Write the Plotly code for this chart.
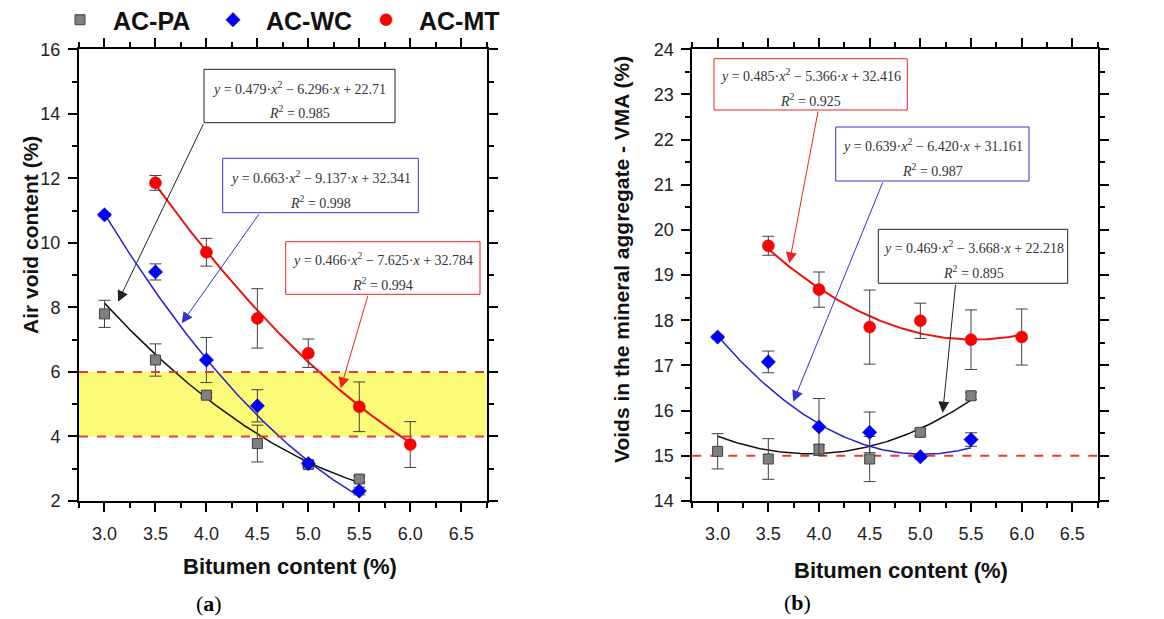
import numpy as np
import plotly.graph_objects as go

W, H = 1164, 619

# ---------------- data ----------------
x_pa = [3.0, 3.5, 4.0, 4.5, 5.0, 5.5]
x_wc = [3.0, 3.5, 4.0, 4.5, 5.0, 5.5]
x_mt = [3.5, 4.0, 4.5, 5.0, 5.5, 6.0]

# (a) air void content (%)
av_pa = [7.80, 6.37, 5.28, 3.78, 3.13, 2.68]
av_pa_err = [0.42, 0.50, 0.08, 0.57, 0.08, 0.10]
av_wc = [10.87, 9.10, 6.37, 4.95, 3.16, 2.31]
av_wc_err = [0.05, 0.25, 0.70, 0.50, 0.08, 0.12]
av_mt = [11.86, 9.71, 7.66, 6.58, 4.92, 3.75]
av_mt_err = [0.23, 0.43, 0.92, 0.44, 0.77, 0.71]

# (b) VMA (%)
vma_pa = [15.10, 14.93, 15.15, 14.93, 15.52, 16.33]
vma_pa_err = [0.39, 0.45, 0.10, 0.50, 0.08, 0.08]
vma_wc = [17.63, 17.08, 15.64, 15.52, 14.98, 15.36]
vma_wc_err = [0.04, 0.24, 0.63, 0.45, 0.05, 0.15]
vma_mt = [19.65, 18.68, 17.85, 17.99, 17.57, 17.63]
vma_mt_err = [0.21, 0.39, 0.82, 0.39, 0.66, 0.62]

# quadratic fits (a*x^2 + b*x + c) as printed in the chart
av_pa_coef = [0.479, -6.296, 22.71]
av_wc_coef = [0.663, -9.137, 32.341]
av_mt_coef = [0.466, -7.625, 32.784]
vma_pa_coef = [0.469, -3.668, 22.218]
vma_wc_coef = [0.639, -6.420, 31.161]
vma_mt_coef = [0.485, -5.366, 32.416]

av_pa_label = ["0.479", "6.296", "22.71", "0.985"]
av_wc_label = ["0.663", "9.137", "32.341", "0.998"]
av_mt_label = ["0.466", "7.625", "32.784", "0.994"]
vma_pa_label = ["0.469", "3.668", "22.218", "0.895"]
vma_wc_label = ["0.639", "6.420", "31.161", "0.987"]
vma_mt_label = ["0.485", "5.366", "32.416", "0.925"]

series_names = ["AC-PA", "AC-WC", "AC-MT"]
av_band = [4, 6]
vma_limit = [15]

x_ticks = [3.0, 3.5, 4.0, 4.5, 5.0, 5.5, 6.0, 6.5]

# ---------------- styles ----------------
SANS = "Liberation Sans, Arial, sans-serif"
SERIF = "Liberation Serif, Times New Roman, serif"
C_PA, C_WC, C_MT = "#808080", "#0000ff", "#ff0000"
L_PA, L_WC, L_MT = "#111111", "#2222cc", "#ee1111"
ERR = "#404040"

fig = go.Figure()


def px2paper(px, py):
    return px / W, 1 - py / H


def add_panel(xa, ya, data, coefs, legend):
    marks = [
        dict(symbol="square", size=10, color=C_PA, line=dict(color="#404040", width=1)),
        dict(symbol="diamond", size=11, color=C_WC, line=dict(color="#000080", width=0.5)),
        dict(symbol="circle", size=12, color=C_MT, line=dict(color="#cc0000", width=0.5)),
    ]
    lines = [dict(color=L_PA, width=1.5), dict(color=L_WC, width=1.5), dict(color=L_MT, width=2)]
    for (xs, ys, es), cf, ln in zip(data, coefs, lines):
        xf = np.linspace(min(xs), max(xs), 120)
        fig.add_trace(go.Scatter(x=xf, y=np.polyval(cf, xf), mode="lines", line=ln,
                                 xaxis=xa, yaxis=ya, showlegend=False, hoverinfo="skip"))
    for (xs, ys, es), mk, nm in zip(data, marks, series_names):
        fig.add_trace(go.Scatter(
            x=xs, y=ys, mode="markers", marker=mk, name="<b>  " + nm + "</b>",
            error_y=dict(type="data", array=es, visible=True, color=ERR, thickness=1, width=6),
            xaxis=xa, yaxis=ya, showlegend=legend))


add_panel("x", "y",
          [(x_pa, av_pa, av_pa_err), (x_wc, av_wc, av_wc_err), (x_mt, av_mt, av_mt_err)],
          [av_pa_coef, av_wc_coef, av_mt_coef], True)
add_panel("x2", "y2",
          [(x_pa, vma_pa, vma_pa_err), (x_wc, vma_wc, vma_wc_err), (x_mt, vma_mt, vma_mt_err)],
          [vma_pa_coef, vma_wc_coef, vma_mt_coef], False)

# ---------------- axes ----------------
ax_common = dict(showline=True, linecolor="black", linewidth=2, mirror="ticks",
                 ticks="outside", ticklen=9, tickwidth=1.5, tickcolor="black",
                 showgrid=False, zeroline=False,
                 tickfont=dict(family=SANS, size=18, color="#222"))
xdom1 = [79 / W, 486.7 / W]
xdom2 = [692.3 / W, 1097.7 / W]
ydom = [1 - 501 / H, 1 - 49.3 / H]

fig.update_layout(
    xaxis=dict(ax_common, domain=xdom1, range=[2.75, 6.75], tickvals=x_ticks,
               tickformat=".1f", anchor="y", ticklabelstandoff=6,
               minor=dict(dtick=0.25, tick0=2.75, ticks="outside", ticklen=5, tickwidth=1.5, tickcolor="black")),
    yaxis=dict(ax_common, domain=ydom, range=[2, 16], dtick=2, tick0=2, anchor="x", ticklabelstandoff=4,
               minor=dict(dtick=1, ticks="outside", ticklen=5, tickwidth=1.5, tickcolor="black")),
    xaxis2=dict(ax_common, domain=xdom2, range=[2.75, 6.75], tickvals=x_ticks,
                tickformat=".1f", anchor="y2", ticklabelstandoff=6,
                minor=dict(dtick=0.25, tick0=2.75, ticks="outside", ticklen=5, tickwidth=1.5, tickcolor="black")),
    yaxis2=dict(ax_common, domain=ydom, range=[14, 24], dtick=1, tick0=14, anchor="x2", ticklabelstandoff=4,
                minor=dict(dtick=0.5, ticks="outside", ticklen=5, tickwidth=1.5, tickcolor="black")),
)

# ---------------- shapes: band and limit lines ----------------
shapes = [
    dict(type="rect", xref="x domain", yref="y", x0=0, x1=1, y0=av_band[0], y1=av_band[1],
         fillcolor="#fbfb78", line=dict(width=0), layer="below"),
]
for v in av_band:
    shapes.append(dict(type="line", xref="x domain", yref="y", x0=0, x1=1, y0=v, y1=v,
                       line=dict(color="#e83a3a", width=2, dash="dash"), layer="above"))
for v in vma_limit:
    shapes.append(dict(type="line", xref="x2 domain", yref="y2", x0=0, x1=1, y0=v, y1=v,
                       line=dict(color="#e83a3a", width=2, dash="dash"), layer="below"))

annotations = []


def eq_box(label, box, lines_y, color, arrow_tail, arrow_tip):
    x0, y0, x1, y1 = box
    a, b, c, r2 = label
    shapes.append(dict(type="rect", xref="paper", yref="paper",
                       x0=x0 / W, x1=x1 / W, y0=1 - y1 / H, y1=1 - y0 / H,
                       line=dict(color=color, width=1), fillcolor="white", layer="above"))
    cx = (x0 + x1) / 2
    t1 = f"<i>y</i> = {a}·<i>x</i><sup>2</sup> − {b}·<i>x</i> + {c}"
    t2 = f"<i>R</i><sup>2</sup> = {r2}"
    for t, ly in zip([t1, t2], lines_y):
        px, py = px2paper(cx, ly)
        annotations.append(dict(text=t, xref="paper", yref="paper", x=px, y=py,
                                xanchor="center", yanchor="middle", showarrow=False,
                                font=dict(family=SERIF, size=14, color="#333")))
    tx, ty = px2paper(*arrow_tip)
    annotations.append(dict(text="", xref="paper", yref="paper", x=tx, y=ty,
                            axref="pixel", ayref="pixel",
                            ax=arrow_tail[0] - arrow_tip[0], ay=arrow_tail[1] - arrow_tip[1],
                            showarrow=True, arrowhead=2, arrowsize=2.2, arrowwidth=1,
                            arrowcolor=color, standoff=0, startstandoff=0))


eq_box(av_pa_label, (204, 69.3, 395, 122.7), (87.7, 111.7), "#222222", (204, 122.7), (118, 301.7))
eq_box(av_wc_label, (222.7, 158.3, 418.3, 212.7), (176.7, 201.7), "#3333cc", (260, 212.7), (181.7, 323.3))
eq_box(av_mt_label, (285.7, 241.7, 480, 294.3), (259.3, 284.3), "#ee2222", (368.3, 294.3), (340.7, 388.3))
eq_box(vma_mt_label, (714, 58.7, 907.3, 110), (75, 100), "#ee2222", (818.3, 110), (789.3, 263.3))
eq_box(vma_wc_label, (835.7, 127, 1029, 181), (145, 170), "#3333cc", (883.3, 181), (793.3, 401.7))
eq_box(vma_pa_label, (878.3, 229.3, 1067.7, 283.3), (247.3, 272.3), "#222222", (955.7, 283.3), (942.7, 412.7))


# ---------------- titles ----------------
def label(text, cx, cy, size, angle=0, family=SANS, color="#111"):
    px, py = px2paper(cx, cy)
    annotations.append(dict(text=text, xref="paper", yref="paper", x=px, y=py,
                            xanchor="center", yanchor="middle", showarrow=False, textangle=angle,
                            font=dict(family=family, size=size, color=color)))


label("<b>Air void content (%)</b>", 30, 235, 21, -90)
label("<b>Voids in the mineral aggregate - VMA (%)</b>", 622, 260, 21, -90)
label("<b>Bitumen content (%)</b>", 290, 566, 22)
label("<b>Bitumen content (%)</b>", 901, 570, 22)
label("(<b>a</b>)", 209, 603, 22, family=SERIF, color="#000")
label("(<b>b</b>)", 797, 602, 22, family=SERIF, color="#000")

lx, ly = px2paper(60, 20)
fig.update_layout(
    width=W, height=H, margin=dict(l=0, r=0, t=0, b=0, autoexpand=False),
    paper_bgcolor="white", plot_bgcolor="white",
    shapes=shapes, annotations=annotations,
    showlegend=True,
    legend=dict(orientation="h", x=lx, y=ly, xanchor="left", yanchor="middle",
                font=dict(family=SANS, size=25, color="#111"),
                entrywidth=108, entrywidthmode="pixels", bgcolor="rgba(0,0,0,0)",
                borderwidth=0, tracegroupgap=0),
)

fig.write_html("out.html")
